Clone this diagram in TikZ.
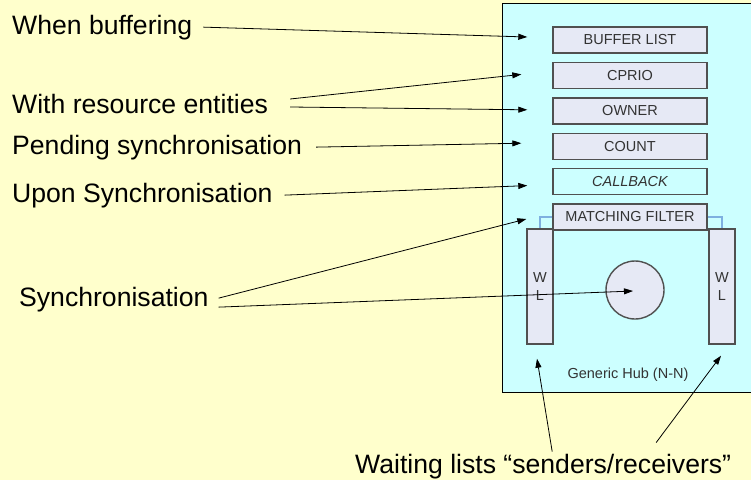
\documentclass[tikz,border=0pt]{standalone}
\usepackage{fontspec}
\setmainfont{Liberation Sans}
\usetikzlibrary{shapes.geometric, arrows.meta, positioning}
\definecolor{paper}{HTML}{FFFFCC}
\definecolor{hubcyan}{HTML}{CCFFFF}
\definecolor{cellgrey}{HTML}{E6E9F5}
\definecolor{edgegrey}{HTML}{505050}
\definecolor{linkblue}{HTML}{7EB0E0}
\tikzstyle{hubbox} = [rectangle, draw=black, fill=hubcyan, line width=0.8pt]
\tikzstyle{field} = [rectangle, minimum width=154pt, minimum height=26pt, text centered, draw=edgegrey, fill=cellgrey, line width=1.4pt, text=black!80, font=\fontsize{14.5}{18}\selectfont]
\tikzstyle{waitlist} = [field, minimum width=26pt, minimum height=115pt, align=center]
\tikzstyle{note} = [inner sep=0pt, anchor=base west, font=\fontsize{26.6}{30}\selectfont]
\tikzstyle{arrow} = [line width=0.8pt,->,>={Triangle[length=9pt,width=6pt]}]
\tikzstyle{link} = [draw=linkblue, line width=2pt]

\begin{document}
\begin{tikzpicture}[x=1pt, y=1pt, node distance=8pt]
\useasboundingbox[fill=paper] (0,0) rectangle (751,-480);

\node (hub) [hubbox, minimum width=270pt, minimum height=389pt, anchor=north west] at (502,-3) {};

\node (buflist) [field] at (630,-40) {BUFFER LIST};
\node (cprio) [field, below=of buflist] {CPRIO};
\node (owner) [field, below=of cprio] {OWNER};
\node (count) [field, below=of owner] {COUNT};
\node (callback) [field, fill=hubcyan, below=of count] {\itshape CALLBACK};
\node (filter) [field, below=of callback] {MATCHING FILTER};

\node (wlleft) [waitlist] at (540,-286.5) {W\\L};
\node (wlright) [waitlist] at (722,-286.5) {W\\L};
\node (sync) [circle, draw=edgegrey, fill=cellgrey, line width=1.4pt, minimum size=58pt] at (635,-290) {};
\node (hubname) [text=black!80, font=\fontsize{14.5}{18}\selectfont] at (628,-375) {Generic Hub (N-N)};

\draw [link] (filter.west) -| (wlleft.north);
\draw [link] (filter.east) -| (wlright.north);

\node (buffering) [note] at (12,-34) {When buffering};
\node (resource) [note] at (12,-113) {With resource entities};
\node (pending) [note] at (12,-154) {Pending synchronisation};
\node (upon) [note] at (12,-202) {Upon Synchronisation};
\node (synch) [note] at (19,-306) {Synchronisation};
\node (waiting) [note] at (355,-473) {Waiting lists “senders/receivers”};

\coordinate (tipbuf) at ([shift={(-25pt,3pt)}]buflist.west);
\coordinate (tipcprio) at ([shift={(-31pt,1pt)}]cprio.west);
\coordinate (tipowner) at ([shift={(-25pt,1pt)}]owner.west);
\coordinate (tipcount) at ([shift={(-31pt,3pt)}]count.west);
\coordinate (tipcall) at ([shift={(-25pt,-4pt)}]callback.west);
\coordinate (tipfilter) at ([shift={(-26pt,-2pt)}]filter.west);
\coordinate (tipsync) at ([shift={(-2pt,-1pt)}]sync.center);
\coordinate (tipwlleft) at ([shift={(-3pt,-14pt)}]wlleft.south);
\coordinate (tipwlright) at ([shift={(-1pt,-11pt)}]wlright.south);

\draw [arrow] ([xshift=11pt]buffering.east) -- (tipbuf);
\draw [arrow] ([shift={(22pt,4.5pt)}]resource.east) -- (tipcprio);
\draw [arrow] ([shift={(22pt,-3.5pt)}]resource.east) -- (tipowner);
\draw [arrow] ([xshift=14pt]pending.east) -- (tipcount);
\draw [arrow] ([xshift=12pt]upon.east) -- (tipcall);
\draw [arrow] ([shift={(10pt,1pt)}]synch.east) -- (tipfilter);
\draw [arrow] ([shift={(10pt,-8pt)}]synch.east) -- (tipsync);
\draw [arrow] ([shift={(9pt,2pt)}]waiting.north) -- (tipwlleft);
\draw [arrow] ([shift={(113pt,11pt)}]waiting.north) -- (tipwlright);

\end{tikzpicture}
\end{document}
